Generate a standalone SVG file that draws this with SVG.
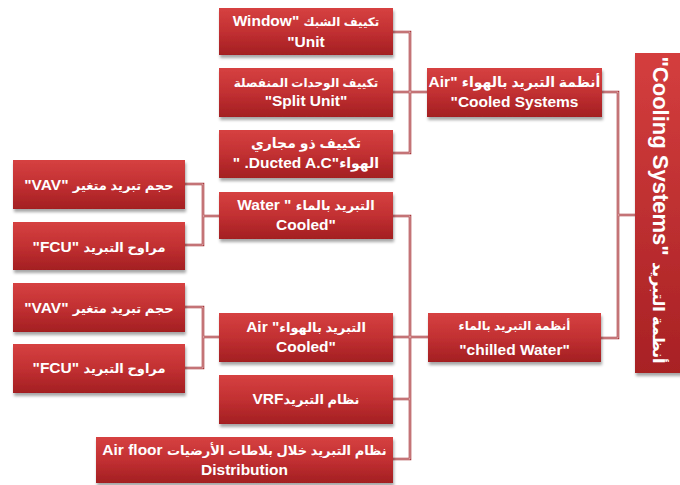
<svg xmlns="http://www.w3.org/2000/svg" width="680" height="485" viewBox="0 0 680 485">
<style>
.box{fill:url(#rg);filter:url(#sh)}
.t{font-family:"Liberation Sans","DejaVu Sans",sans-serif;font-weight:bold;font-size:15.5px;fill:#ffffff;text-anchor:middle;direction:rtl}
.a{font-size:13px}
.a12{font-size:12px}
.a14{font-size:14px}
.big{font-size:22px}
.abig{font-size:16px}
.c1{fill:none;stroke:#a8363a;stroke-width:2.6}
.c2{fill:none;stroke:#efd2d3;stroke-width:0.8}
</style>
<defs>
<linearGradient id="rg" x1="0" y1="0" x2="0" y2="1">
<stop offset="0" stop-color="#d64141"/>
<stop offset="0.5" stop-color="#c23032"/>
<stop offset="1" stop-color="#a31f22"/>
</linearGradient>
<linearGradient id="rgv" x1="0" y1="0" x2="0" y2="1">
<stop offset="0" stop-color="#d43e3e"/>
<stop offset="1" stop-color="#a82124"/>
</linearGradient>
<filter id="sh" x="-10%" y="-20%" width="125%" height="150%">
<feDropShadow dx="1" dy="3" stdDeviation="1.5" flood-color="#000" flood-opacity="0.35"/>
</filter>
</defs>
<rect width="680" height="485" fill="#ffffff"/>
<g id="connectors">
<path class="c1" d="M393,32H410V153H393M393,92H427M602,92H618V338H601M618,215H635M393,216H410V459H393M393,337H428M393,399H410M185,184H203V245H185M203,216H219M185,307H203V368H185M203,337H219"/>
<path class="c2" d="M393,32H410V153H393M393,92H427M602,92H618V338H601M618,215H635M393,216H410V459H393M393,337H428M393,399H410M185,184H203V245H185M203,216H219M185,307H203V368H185M203,337H219"/>
</g>
<g id="main">
<rect x="635" y="53" width="55" height="320" style="fill:url(#rgv);filter:url(#sh)"/>
<text class="t big" transform="translate(661,210) rotate(90)" y="8"><tspan class="abig">أنظمة التبريد</tspan> "Cooling Systems"</text>
</g>
<g id="aircs">
<rect class="box" x="427" y="68" width="175" height="49"/>
<text class="t" x="514.5" y="87"><tspan class="a14">أنظمة التبريد بالهواء</tspan> "Air</text>
<text class="t" x="514.5" y="107">Cooled Systems"</text>
</g>
<g id="chilled">
<rect class="box" x="428" y="313" width="173" height="49"/>
<text class="t" x="514.5" y="330"><tspan class="a12">أنظمة التبريد بالماء</tspan></text>
<text class="t" x="514.5" y="355">"chilled Water"</text>
</g>
<g id="window">
<rect class="box" x="219" y="8" width="174" height="47"/>
<text class="t" x="306" y="26"><tspan class="a12">تكييف الشبك</tspan> "Window</text>
<text class="t" x="306" y="47">Unit"</text>
</g>
<g id="split">
<rect class="box" x="219" y="68" width="174" height="49"/>
<text class="t" x="306" y="87"><tspan class="a12">تكييف الوحدات المنفصلة</tspan></text>
<text class="t" x="306" y="106">"Split Unit"</text>
</g>
<g id="ducted">
<rect class="box" x="219" y="130" width="174" height="48"/>
<text class="t" x="306" y="148"><tspan class="a14">تكييف ذو مجاري</tspan></text>
<text class="t" x="306" y="168"><tspan class="a14">الهواء</tspan>"Ducted A.C. "</text>
</g>
<g id="water">
<rect class="box" x="219" y="192" width="174" height="47"/>
<text class="t" x="306" y="210"><tspan class="a">التبريد بالماء</tspan> " Water</text>
<text class="t" x="306" y="230">"Cooled</text>
</g>
<g id="vav1">
<rect class="box" x="13" y="160" width="172" height="49"/>
<text class="t" x="99" y="190"><tspan class="a">حجم تبريد متغير</tspan> "VAV"</text>
</g>
<g id="fcu1">
<rect class="box" x="13" y="222" width="172" height="48"/>
<text class="t" x="99" y="252"><tspan class="a">مراوح التبريد</tspan> "FCU"</text>
</g>
<g id="vav2">
<rect class="box" x="13" y="283" width="172" height="49"/>
<text class="t" x="99" y="313"><tspan class="a">حجم تبريد متغير</tspan> "VAV"</text>
</g>
<g id="fcu2">
<rect class="box" x="13" y="344" width="172" height="49"/>
<text class="t" x="99" y="373"><tspan class="a">مراوح التبريد</tspan> "FCU"</text>
</g>
<g id="aircooled">
<rect class="box" x="219" y="313" width="174" height="49"/>
<text class="t" x="306" y="332"><tspan class="a">التبريد بالهواء</tspan>" Air</text>
<text class="t" x="306" y="352">"Cooled</text>
</g>
<g id="vrf">
<rect class="box" x="219" y="375" width="174" height="49"/>
<text class="t" x="306" y="404"><tspan class="a">نظام التبريد</tspan>VRF</text>
</g>
<g id="airfloor">
<rect class="box" x="96" y="437" width="297" height="46"/>
<text class="t" x="244.5" y="455"><tspan class="a">نظام التبريد خلال بلاطات الأرضيات</tspan> Air floor</text>
<text class="t" x="244.5" y="475">Distribution</text>
</g>
</svg>
